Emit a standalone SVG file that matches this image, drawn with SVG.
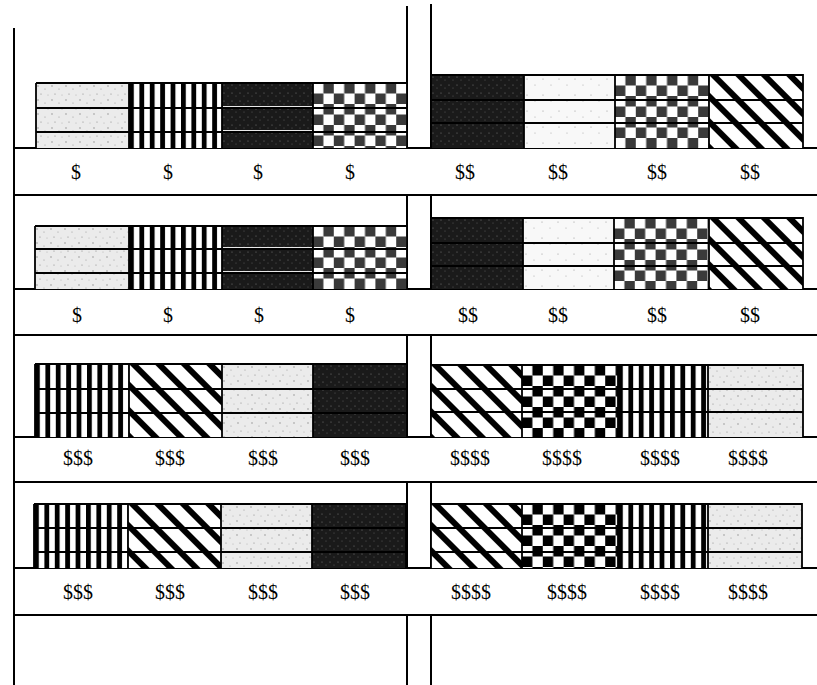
<svg xmlns="http://www.w3.org/2000/svg" width="817" height="685" viewBox="0 0 817 685">
<style>
.ln{stroke:#000;stroke-width:2;fill:none}
.fr{stroke:#000;stroke-width:1.8;fill:none}
.wl{stroke:#e8e8e8;stroke-width:1}
.lbl{font-family:"Liberation Serif","Times New Roman",serif;font-size:20px;fill:#000;text-anchor:middle}
</style>
<defs>
<pattern id="stip" patternUnits="userSpaceOnUse" width="14" height="14">
<rect width="14" height="14" fill="#ebebeb"/>
<circle cx="2" cy="3" r="0.7" fill="#888"/><circle cx="9" cy="6" r="0.6" fill="#999"/>
<circle cx="5" cy="11" r="0.6" fill="#888"/><circle cx="12" cy="12" r="0.5" fill="#aaa"/>
</pattern>
<pattern id="stipw" patternUnits="userSpaceOnUse" width="16" height="16">
<rect width="16" height="16" fill="#f8f8f8"/>
<circle cx="3" cy="4" r="0.6" fill="#999"/><circle cx="11" cy="10" r="0.6" fill="#aaa"/>
</pattern>
<pattern id="dark" patternUnits="userSpaceOnUse" width="8" height="8">
<rect width="8" height="8" fill="#1a1a1a"/>
<circle cx="2" cy="2" r="0.6" fill="#777"/><circle cx="6" cy="5" r="0.5" fill="#666"/>
</pattern>
<pattern id="vstr" patternUnits="userSpaceOnUse" width="10.4" height="10">
<rect width="10.4" height="10" fill="#fff"/>
<rect width="4.8" height="10" fill="#000"/>
</pattern>
<pattern id="chkg" patternUnits="userSpaceOnUse" width="20.8" height="21">
<rect width="20.8" height="21" fill="#fff"/>
<rect x="10.4" y="0" width="10.4" height="10.5" fill="#3a3a3a"/>
<rect x="0" y="10.5" width="10.4" height="10.5" fill="#3a3a3a"/>
</pattern>
<pattern id="chkb" patternUnits="userSpaceOnUse" width="20.8" height="21">
<rect width="20.8" height="21" fill="#fff"/>
<rect x="10.4" y="0" width="10.4" height="10.5" fill="#000"/>
<rect x="0" y="10.5" width="10.4" height="10.5" fill="#000"/>
</pattern>
<pattern id="diag" patternUnits="userSpaceOnUse" width="18" height="18" patternTransform="rotate(-45)">
<rect width="18" height="18" fill="#fff"/>
<rect width="6" height="18" fill="#000"/>
</pattern>
</defs>
<rect width="817" height="685" fill="#fff"/>

<g id="structure">
<line class="ln" x1="14" y1="28" x2="14" y2="685"/>
<path class="ln" d="M407 6V148M407 195V289M407 335V437M407 482V568M407 615V685"/>
<path class="ln" d="M431 4V148M431 195V289M431 335V437M431 482V568M431 615V685"/>
<path class="ln" d="M14 148H817M14 195H817M14 289H817M14 335H817M14 437H817M14 482H817M14 568H817M14 615H817"/>
</g>

<!-- Shelf 1 left -->
<g id="shelf1-left">
<g id="bin-1-1" transform="translate(36,83)"><rect width="93" height="65" fill="url(#stip)"/></g>
<g id="bin-1-2" transform="translate(129,83)"><rect width="93" height="65" fill="url(#vstr)"/></g>
<g id="bin-1-3" transform="translate(222,83)"><rect width="91" height="65" fill="url(#dark)"/></g>
<g id="bin-1-4" transform="translate(313,83)"><rect width="94" height="65" fill="url(#chkg)"/></g>
<path class="fr" d="M36 83H407V148M36 83V148M36 108H407M36 132H407M129 83V148M222 83V148M313 83V148"/>
<path class="wl" d="M223 106.5H312M223 130.5H312"/>
</g>
<!-- Shelf 1 right -->
<g id="shelf1-right">
<g id="bin-1-5" transform="translate(431,75)"><rect width="93" height="73" fill="url(#dark)"/></g>
<g id="bin-1-6" transform="translate(524,75)"><rect width="91" height="73" fill="url(#stipw)"/></g>
<g id="bin-1-7" transform="translate(615,75)"><rect width="94" height="73" fill="url(#chkg)"/></g>
<g id="bin-1-8" transform="translate(709,75)"><rect width="94" height="73" fill="url(#diag)"/></g>
<path class="fr" d="M431 75H803V148M431 75V148M431 100H803M431 123H803M524 75V148M615 75V148M709 75V148"/>
</g>
<g id="labels-1">
<text class="lbl" x="76" y="179">$</text><text class="lbl" x="168" y="179">$</text><text class="lbl" x="258" y="179">$</text><text class="lbl" x="350" y="179">$</text>
<text class="lbl" x="465" y="179">$$</text><text class="lbl" x="558" y="179">$$</text><text class="lbl" x="657" y="179">$$</text><text class="lbl" x="750" y="179">$$</text>
</g>

<!-- Shelf 2 left -->
<g id="shelf2-left">
<g id="bin-2-1" transform="translate(35,226)"><rect width="94" height="63" fill="url(#stip)"/></g>
<g id="bin-2-2" transform="translate(129,226)"><rect width="93" height="63" fill="url(#vstr)"/></g>
<g id="bin-2-3" transform="translate(222,226)"><rect width="91" height="63" fill="url(#dark)"/></g>
<g id="bin-2-4" transform="translate(313,226)"><rect width="94" height="63" fill="url(#chkg)"/></g>
<path class="fr" d="M35 226H407V289M35 226V289M35 249H407M35 273H407M129 226V289M222 226V289M313 226V289"/>
<path class="wl" d="M223 247.5H312M223 271.5H312"/>
</g>
<!-- Shelf 2 right -->
<g id="shelf2-right">
<g id="bin-2-5" transform="translate(431,218)"><rect width="92" height="71" fill="url(#dark)"/></g>
<g id="bin-2-6" transform="translate(523,218)"><rect width="91" height="71" fill="url(#stipw)"/></g>
<g id="bin-2-7" transform="translate(614,218)"><rect width="95" height="71" fill="url(#chkg)"/></g>
<g id="bin-2-8" transform="translate(709,218)"><rect width="94" height="71" fill="url(#diag)"/></g>
<path class="fr" d="M431 218H803V289M431 218V289M431 243H803M431 266H803M523 218V289M614 218V289M709 218V289"/>
</g>
<g id="labels-2">
<text class="lbl" x="77" y="322">$</text><text class="lbl" x="168" y="322">$</text><text class="lbl" x="259" y="322">$</text><text class="lbl" x="350" y="322">$</text>
<text class="lbl" x="468" y="322">$$</text><text class="lbl" x="558" y="322">$$</text><text class="lbl" x="657" y="322">$$</text><text class="lbl" x="750" y="322">$$</text>
</g>

<!-- Shelf 3 left -->
<g id="shelf3-left">
<g id="bin-3-1" transform="translate(35,364)"><rect width="94" height="73" fill="url(#vstr)"/></g>
<g id="bin-3-2" transform="translate(129,364)"><rect width="93" height="73" fill="url(#diag)"/></g>
<g id="bin-3-3" transform="translate(222,364)"><rect width="91" height="73" fill="url(#stip)"/></g>
<g id="bin-3-4" transform="translate(313,364)"><rect width="94" height="73" fill="url(#dark)"/></g>
<path class="fr" d="M35 364H407V437M35 364V437M35 389H407M35 413H407M129 364V437M222 364V437M313 364V437"/>
</g>
<!-- Shelf 3 right -->
<g id="shelf3-right">
<g id="bin-3-5" transform="translate(431,365)"><rect width="91" height="72" fill="url(#diag)"/></g>
<g id="bin-3-6" transform="translate(522,365)"><rect width="96" height="72" fill="url(#chkb)"/></g>
<g id="bin-3-7" transform="translate(618,365)"><rect width="90" height="72" fill="url(#vstr)"/></g>
<g id="bin-3-8" transform="translate(708,365)"><rect width="95" height="72" fill="url(#stip)"/></g>
<path class="fr" d="M431 365H803V437M431 365V437M431 389H803M431 412H803M522 365V437M618 365V437M708 365V437"/>
</g>
<g id="labels-3">
<text class="lbl" x="78" y="465">$$$</text><text class="lbl" x="170" y="465">$$$</text><text class="lbl" x="263" y="465">$$$</text><text class="lbl" x="355" y="465">$$$</text>
<text class="lbl" x="470" y="465">$$$$</text><text class="lbl" x="562" y="465">$$$$</text><text class="lbl" x="660" y="465">$$$$</text><text class="lbl" x="748" y="465">$$$$</text>
</g>

<!-- Shelf 4 left -->
<g id="shelf4-left">
<g id="bin-4-1" transform="translate(34,504)"><rect width="94" height="64" fill="url(#vstr)"/></g>
<g id="bin-4-2" transform="translate(128,504)"><rect width="93" height="64" fill="url(#diag)"/></g>
<g id="bin-4-3" transform="translate(221,504)"><rect width="91" height="64" fill="url(#stip)"/></g>
<g id="bin-4-4" transform="translate(312,504)"><rect width="94" height="64" fill="url(#dark)"/></g>
<path class="fr" d="M34 504H406V568M34 504V568M34 528H406M34 552H406M128 504V568M221 504V568M312 504V568"/>
</g>
<!-- Shelf 4 right -->
<g id="shelf4-right">
<g id="bin-4-5" transform="translate(431,504)"><rect width="91" height="64" fill="url(#diag)"/></g>
<g id="bin-4-6" transform="translate(522,504)"><rect width="96" height="64" fill="url(#chkb)"/></g>
<g id="bin-4-7" transform="translate(618,504)"><rect width="90" height="64" fill="url(#vstr)"/></g>
<g id="bin-4-8" transform="translate(708,504)"><rect width="94" height="64" fill="url(#stip)"/></g>
<path class="fr" d="M431 504H802V568M431 504V568M431 528H802M431 552H802M522 504V568M618 504V568M708 504V568"/>
</g>
<g id="labels-4">
<text class="lbl" x="78" y="599">$$$</text><text class="lbl" x="170" y="599">$$$</text><text class="lbl" x="263" y="599">$$$</text><text class="lbl" x="355" y="599">$$$</text>
<text class="lbl" x="471" y="599">$$$$</text><text class="lbl" x="567" y="599">$$$$</text><text class="lbl" x="660" y="599">$$$$</text><text class="lbl" x="748" y="599">$$$$</text>
</g>
</svg>
